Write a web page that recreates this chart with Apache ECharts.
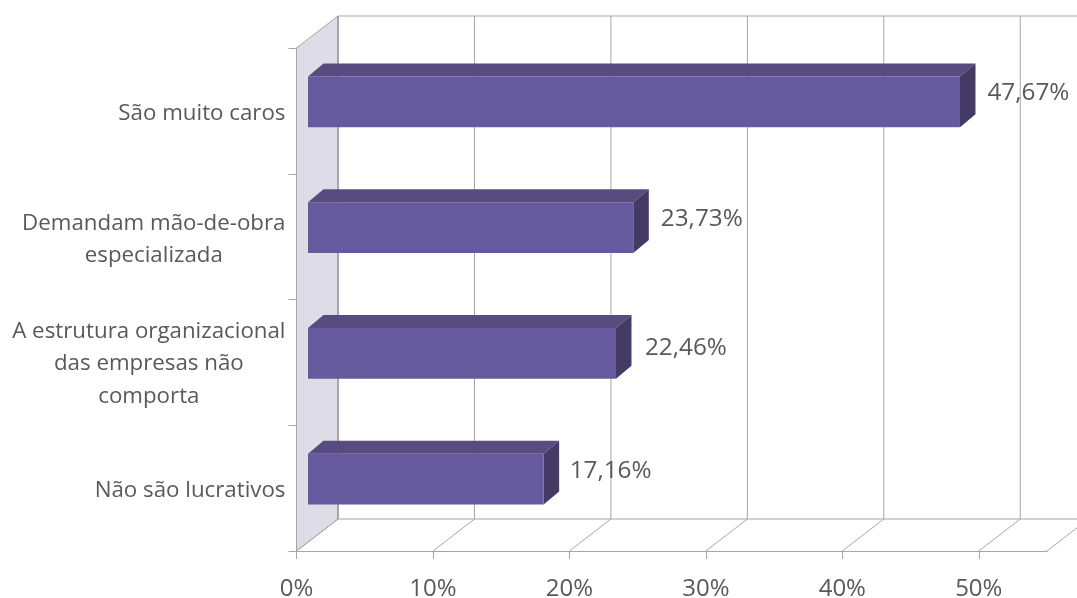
<!DOCTYPE html>
<html><head><meta charset="utf-8">
<style>html,body{margin:0;padding:0;background:#fff}#c{width:1077px;height:598px}</style>
<script src="https://cdn.jsdelivr.net/npm/echarts@6/dist/echarts.min.js"></script>
</head><body><div id="c"></div>
<script>
const categories = ['São muito caros', 'Demandam mão-de-obra\nespecializada', 'A estrutura organizacional\ndas empresas não\ncomporta', 'Não são lucrativos'];
const values = [47.67, 23.73, 22.46, 17.16];
const valueLabels = ['47,67%', '23,73%', '22,46%', '17,16%'];
const tickValues = [0, 10, 20, 30, 40, 50];

const FONT = '"Open Sans"', FS_CAT = 22.3, FS_VAL = 24.3, FS_AXIS = 24, TXT = '#595959';
const DX = 41.5, DY = -32;         // depth of the 3D box
const BX = 15.5, BY = -13;         // depth of each bar
const LINE = '#A6A6A6';
const LABEL_NUDGE_Y = [0, 0, 3, 0];
const LABEL_NUDGE_X = [0, 0, 1.5, -1.5];
const CAT_NUDGE_Y = [3, 3, 1.5, 3];
const CAT_GAP = 11;

const ctx = document.createElement('canvas').getContext('2d');
ctx.font = FS_CAT + 'px ' + FONT;
const blockWidth = s => Math.max(...s.split('\n').map(l => ctx.measureText(l).width));

const chart = echarts.init(document.getElementById('c'), null, {renderer: 'canvas'});

function renderWall(params, api) {
  const g = params.coordSys;
  const x = g.x, t = g.y, b = g.y + g.height;
  return {type: 'group', children: [
    {type: 'polygon', shape: {points: [[x, t], [x + DX, t + DY], [x + DX, b + DY], [x, b]]},
     style: {fill: '#DEDCE7', stroke: LINE, lineWidth: 1}},
    {type: 'line', shape: {x1: x + DX, y1: t + DY, x2: 1077, y2: t + DY}, style: {stroke: '#C4C4C4', lineWidth: 1.5}},
    {type: 'line', shape: {x1: x + DX, y1: t + DY, x2: x + DX, y2: b + DY}, style: {stroke: '#9A9A9E', lineWidth: 1.5}},
    {type: 'line', shape: {x1: x + DX, y1: b + DY, x2: 1077, y2: b + DY}, style: {stroke: LINE, lineWidth: 1.2}}
  ]};
}
function renderGrid(params, api) {
  const g = params.coordSys;
  const x = api.coord([api.value(0), 0])[0], t = g.y, b = g.y + g.height;
  const kids = [{type: 'line', shape: {x1: x, y1: b, x2: x + DX, y2: b + DY}, style: {stroke: LINE, lineWidth: 1}}];
  if (api.value(0) > 0) kids.push({type: 'line', shape: {x1: x + DX, y1: t + DY, x2: x + DX, y2: b + DY}, style: {stroke: LINE, lineWidth: 1}});
  return {type: 'group', children: kids};
}
function renderCategory(params, api) {
  const i = api.value(1), p = api.coord([0, i]), c = categories[i];
  return {type: 'text', style: {text: c, x: p[0] - CAT_GAP - blockWidth(c) / 2, y: p[1] + CAT_NUDGE_Y[i],
    textAlign: 'center', textVerticalAlign: 'middle', font: FS_CAT + 'px ' + FONT, lineHeight: 32.5, fill: TXT}};
}
function renderBar(params, api) {
  const i = api.value(1), cy = api.coord([0, i])[1] - 9;
  const h = api.size([0, 1])[1] * 0.405;
  const x0 = api.coord([0, i])[0] + 11.5;
  const x1 = api.coord([api.value(0), i])[0] + 13;
  const t = cy - h / 2, b = cy + h / 2;
  return {type: 'group', children: [
    {type: 'polygon', shape: {points: [[x0, t], [x0 + BX, t + BY], [x1 + BX, t + BY], [x1, t]]}, style: {fill: '#574B80'}},
    {type: 'polygon', shape: {points: [[x1, t], [x1 + BX, t + BY], [x1 + BX, b + BY], [x1, b]]}, style: {fill: '#433B63'}},
    {type: 'rect', shape: {x: x0, y: t, width: x1 - x0, height: b - t}, style: {fill: '#665A9E'}},
    {type: 'text', z2: 10, style: {text: valueLabels[i], x: x1 + BX + 12 + LABEL_NUDGE_X[i], y: cy - 8.5 + LABEL_NUDGE_Y[i],
      textAlign: 'left', textVerticalAlign: 'middle', font: FS_VAL + 'px ' + FONT, fill: TXT}}
  ]};
}

chart.setOption({
  animation: false,
  grid: {left: 296.5, right: 30, top: 48, bottom: 47, outerBoundsMode: 'none'},
  xAxis: {
    type: 'value', min: 0, max: 55, interval: 10, position: 'bottom',
    splitLine: {show: false},
    axisLine: {show: true, lineStyle: {color: LINE, width: 1.2}},
    axisTick: {show: true, length: 8, lineStyle: {color: LINE}, customValues: tickValues},
    axisLabel: {customValues: tickValues, formatter: v => v + '%', margin: 26, fontFamily: FONT, fontSize: FS_AXIS, color: TXT}
  },
  yAxis: {
    type: 'category', inverse: true, data: categories,
    splitLine: {show: false},
    axisLine: {show: true, lineStyle: {color: LINE, width: 1}},
    axisTick: {show: true, length: 8, lineStyle: {color: LINE}},
    axisLabel: {show: false}
  },
  series: [
    {type: 'custom', renderItem: renderWall, data: [[0, 0]], encode: {x: 0, y: 1}, z: 1, silent: true},
    {type: 'custom', renderItem: renderGrid, data: [...tickValues, 55].map(v => [v, 0]), encode: {x: 0, y: 1}, z: 2, silent: true},
    {type: 'custom', renderItem: renderCategory, data: categories.map((c, i) => [0, i]), encode: {x: 0, y: 1}, z: 2, silent: true},
    {type: 'custom', renderItem: renderBar, data: values.map((v, i) => [v, i]), encode: {x: 0, y: 1}, z: 3}
  ]
});
</script></body></html>
